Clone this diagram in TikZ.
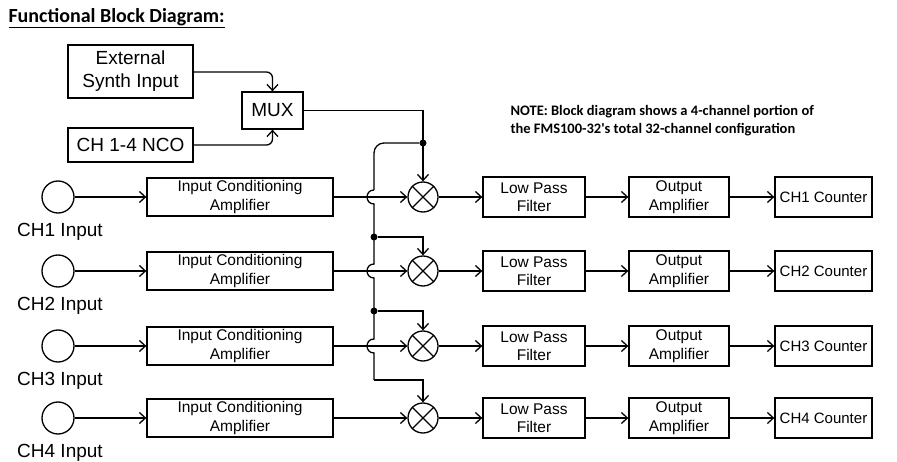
\documentclass[tikz,border=0pt]{standalone}
\usepackage{fontspec}
\setmainfont{Liberation Sans}
\newfontfamily\notefont{Carlito}
\usetikzlibrary{arrows.meta}
\tikzset{
  blk/.style={draw, line width=1.3pt, align=center, inner sep=2pt, font=\fontsize{15.5}{18.5}\selectfont},
  mix/.style={draw, circle, line width=1.3pt, minimum size=30pt, inner sep=0pt},
  src/.style={draw, circle, line width=1.3pt, minimum size=32pt, inner sep=0pt},
  wire/.style={line width=1.3pt, -{Straight Barb[length=6pt,width=11pt]}},
  line/.style={line width=1.3pt},
  dot/.style={circle, fill, inner sep=0pt, minimum size=7pt}
}
\begin{document}
\begin{tikzpicture}[x=1pt,y=-1pt]
\useasboundingbox (0,0) rectangle (897,462);
\node[anchor=west, font=\notefont\bfseries\fontsize{20}{22}\selectfont] (title) at (5,18) {\underline{Functional Block Diagram:}};
\node[anchor=west, align=left, font=\notefont\bfseries\fontsize{14.5}{18}\selectfont] (note) at (507,121)
  {NOTE: Block diagram shows a 4-channel portion of\\the FMS100-32's total 32-channel configuration};
% synth and mux
\node[blk, minimum width=125pt, minimum height=53pt, font=\fontsize{19}{23}\selectfont] (ext) at (130.5,71.5) {External\\Synth Input};
\node[blk, minimum width=125pt, minimum height=34pt, font=\fontsize{19}{23}\selectfont] (nco) at (130.5,145) {CH 1-4 NCO};
\node[blk, minimum width=61pt, minimum height=37pt, font=\fontsize{19}{23}\selectfont] (mux) at (272.5,110.5) {MUX};
\draw[wire, rounded corners=6pt] (ext.east |- 0,72) -| (mux.north);
\draw[wire, rounded corners=6pt] (nco.east) -| (mux.south);
% channels
\foreach \i/\y in {1/197,2/271,3/346,4/418}{
  \node[src] (in\i) at (58,\y) {};
  \node[font=\fontsize{19}{23}\selectfont] (lbl\i) at (60,\y+35) {CH\i\ Input};
  \node[blk, minimum width=186pt, minimum height=38pt] (ica\i) at (240,\y) {Input Conditioning\\Amplifier};
  \node[mix] (m\i) at (423,\y) {};
  \draw[line] (m\i.north east) -- (m\i.south west) (m\i.north west) -- (m\i.south east);
  \node[blk, minimum width=102pt, minimum height=40pt] (lpf\i) at (534,\y) {Low Pass\\Filter};
  \node[blk, minimum width=100pt, minimum height=40pt] (oa\i) at (679,\y) {Output\\Amplifier};
  \node[blk, minimum width=97pt, minimum height=40pt, font=\fontsize{15}{18}\selectfont] (cnt\i) at (823.5,\y) {CH\i\ Counter};
  \draw[wire] (in\i) -- (ica\i);
  \draw[wire] (ica\i) -- (m\i);
  \draw[wire] (m\i) -- (lpf\i);
  \draw[wire] (lpf\i) -- (oa\i);
  \draw[wire] (oa\i) -- (cnt\i);
}
% local oscillator bus
\node[dot] (j1) at (423,143) {};
\node[dot] (j2) at (374,237) {};
\node[dot] (j3) at (374,311) {};
\coordinate (b4) at (374,380);
\draw[wire] (mux.east) -| (m1.north);
\draw[line, rounded corners=10pt] (j1) -| (374,190);
\draw[line] (374,190) to[out=180,in=180,looseness=1.7] (374,204) -- (374,264)
  to[out=180,in=180,looseness=1.7] (374,278) -- (374,339)
  to[out=180,in=180,looseness=1.7] (374,353) -- (b4);
\draw[wire] (j2) -| (m2.north);
\draw[wire] (j3) -| (m3.north);
\draw[wire] (b4) -| (m4.north);
\end{tikzpicture}
\end{document}
